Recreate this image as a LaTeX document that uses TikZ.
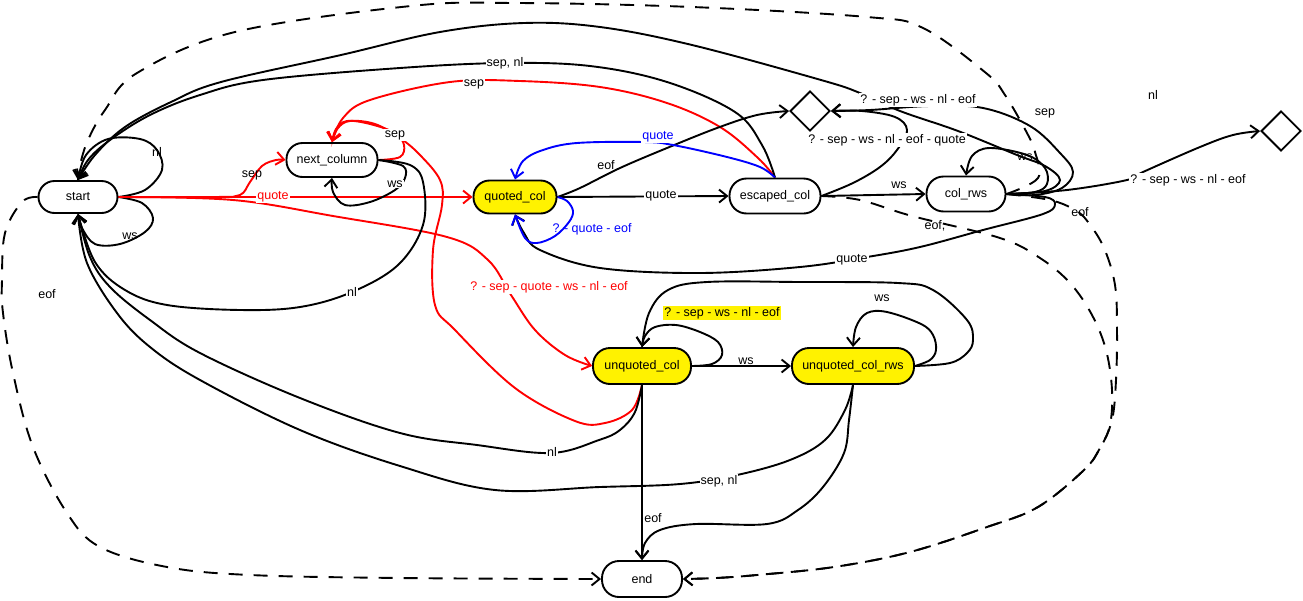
\documentclass[tikz,border=0pt]{standalone}
\usepackage{fontspec}
\setmainfont{Liberation Sans}
\usetikzlibrary{arrows.meta,shapes.geometric}
\pgfdeclarelayer{bg}
\pgfsetlayers{bg,main}
\begin{document}
\begin{tikzpicture}[x=1pt,y=-1pt,
  every node/.style={font=\fontsize{12.5}{14}\selectfont},
  stt/.style={draw, line width=1.9pt, rectangle, rounded corners=16pt, minimum height=34pt, inner sep=0pt},
  dm/.style={draw, line width=1.9pt, diamond, minimum width=40pt, minimum height=40pt, inner sep=0pt},
  cn/.style={line width=1.9pt},
  ar/.style={cn, -{Straight Barb[length=8pt,width=13pt]}},
  dsh/.style={ar, dash pattern=on 14pt off 11pt},
  lbl/.style={fill=white, inner sep=1pt},
  lb/.style={inner sep=1pt}
]
\useasboundingbox (0,0) rectangle (1303,600);
% states
\node[stt, minimum width=79pt, minimum height=32pt] (s) at (78,197) {start};
\node[stt, minimum width=91pt] (nc) at (332,160) {next\_column};
\node[stt, fill=yellow, minimum width=83pt, minimum height=33pt] (qc) at (515,197) {quoted\_col};
\node[stt, minimum width=91pt, minimum height=35pt, rounded corners=17pt] (ec) at (775,196) {escaped\_col};
\node[stt, minimum width=79pt, minimum height=35pt, rounded corners=17pt] (cr) at (966,194) {col\_rws};
\node[dm] (d1) at (810,111) {};
\node[dm] (d2) at (1281,131) {};
\node[stt, fill=yellow, minimum width=98pt, minimum height=36pt, rounded corners=17pt] (uc) at (642,366) {unquoted\_col};
\node[stt, fill=yellow, minimum width=122pt, minimum height=36pt, rounded corners=17pt] (ucr) at (853,366) {unquoted\_col\_rws};
\node[stt, minimum width=80pt, minimum height=36pt, rounded corners=17pt] (fin) at (642,579) {end};

\begin{pgfonlayer}{bg}
% start loops
\draw[ar] plot[smooth, tension=0.6] coordinates {(s.east) (145,190) (162,170) (157,150) (140,139) (108,139) (86,155) (s.north)};
\draw[ar] plot[smooth, tension=0.6] coordinates {(s.east) (142,203) (153,218) (145,232) (120,244) (95,244) (82,228) (s.south)};
% start -> next_column (sep)
\draw[ar, red] plot[smooth, tension=0.6] coordinates {(s.east) (215,197) (240,195) (250,182) (262,166) (276,160) (nc.west)};
% start -> quoted_col (quote)
\draw[ar, red] (s.east) -- (qc.west);
% start -> unquoted_col
\draw[ar, red] plot[smooth, tension=0.6] coordinates {(s.east) (233,200) (333,216) (447,237) (488,260) (511,295) (535,330) (565,355) (uc.west)};
% next_column loops
\draw[ar, red] plot[smooth, tension=0.6] coordinates {(nc.east) (400,157) (404,145) (395,133) (370,124) (347,121) (336,129) (nc.north)};
\draw[ar] plot[smooth, tension=0.6] coordinates {(nc.east) (403,166) (405,178) (395,190) (370,202) (345,205) (333,192) (nc.south)};
% next_column -> start (nl)
\draw[ar] plot[smooth, tension=0.6] coordinates {(nc.east) (410,165) (423,182) (423,225) (398,265) (352,292) (300,307) (240,310) (167,305) (125,290) (95,262) (s.south)};
% unquoted_col -> next_column (sep, red)
\draw[ar, red] plot[smooth, tension=0.6] coordinates {(uc.south) (632,410) (605,423) (575,421) (515,388) (455,330) (435,305) (433,250) (442,205) (440,180) (420,155) (400,138) (375,124) (350,121) (338,128) (nc.north)};
% escaped_col -> next_column (sep, red)
\draw[ar, red] plot[smooth, tension=0.6] coordinates {(ec.north) (758,158) (720,127) (667,103) (600,87) (520,81) (450,82) (370,100) (343,118) (nc.north)};
% escaped_col -> start (sep, nl)
\draw[ar] plot[smooth, tension=0.6] coordinates {(ec.north) (762,145) (735,112) (667,82) (590,66) (505,63) (400,68) (263,80) (200,95) (150,115) (110,140) (88,160) (s.north)};
% col_rws -> start (upper arc)
\draw[ar] plot[smooth, tension=0.6] coordinates {(cr.east) (1045,191) (1060,180) (1045,166) (1017,155) (958,131) (900,111) (860,93) (821,80) (692,45) (600,27) (524,23) (440,32) (341,55) (221,82) (171,102) (125,127) (95,155) (s.north)};
% col_rws -> diamond 1
\draw[ar] plot[smooth, tension=0.6] coordinates {(cr.east) (1035,195) (1062,188) (1073,172) (1060,153) (1030,126) (983,108) (930,106) (870,110) (d1.east)};
% escaped_col -> diamond 1
\draw[ar] plot[smooth, tension=0.6] coordinates {(ec.east) (853,183) (880,167) (897,150) (907,130) (895,117) (862,111) (d1.east)};
% quoted_col -> diamond 1 (eof)
\draw[ar] plot[smooth, tension=0.6] coordinates {(qc.east) (580,188) (620,168) (667,148) (717,128) (757,115) (d1.west)};
% quoted_col -> escaped_col
\draw[ar] (qc.east) -- (ec.west);
% escaped_col -> col_rws
\draw[ar] (ec.east) -- (cr.west);
% col_rws loop ws
\draw[ar] plot[smooth, tension=0.6] coordinates {(cr.east) (1035,192) (1047,184) (1045,168) (1027,155) (990,148) (972,156) (cr.north)};
% col_rws -> diamond 2
\draw[ar] plot[smooth, tension=0.6] coordinates {(cr.east) (1067,190) (1127,180) (1143,172) (1200,147) (1233,135) (d2.west)};
% col_rws -> quoted_col (quote)
\draw[ar] plot[smooth, tension=0.6] coordinates {(cr.east) (1045,197) (1055,204) (1043,214) (983,230) (920,247) (867,257) (800,267) (700,273) (600,268) (540,250) (524,233) (qc.south)};
% escaped_col -> quoted_col (blue)
\draw[ar, blue] plot[smooth, tension=0.6] coordinates {(ec.north) (760,167) (727,157) (673,145) (643,142) (577,143) (543,150) (523,161) (qc.north)};
% quoted_col loop (blue)
\draw[ar, blue] plot[smooth, tension=0.6] coordinates {(qc.east) (567,201) (573,211) (569,222) (555,236) (537,243) (525,238) (qc.south)};
% unquoted_col loop
\draw[ar] plot[smooth, tension=0.6] coordinates {(uc.east) (712,364) (722,355) (718,342) (700,332) (676,325) (655,327) (645,336) (uc.north)};
% unquoted_col_rws -> unquoted_col
\draw[ar] plot[smooth, tension=0.6] coordinates {(ucr.east) (950,363) (967,353) (973,340) (967,320) (933,290) (898,283) (800,282) (707,282) (668,290) (649,313) (uc.north)};
% unquoted_col_rws loop ws
\draw[ar] plot[smooth, tension=0.6] coordinates {(ucr.east) (930,360) (936,350) (933,335) (921,324) (887,312) (867,313) (856,327) (ucr.north)};
% unquoted_col -> unquoted_col_rws
\draw[ar] (uc.east) -- (ucr.west);
% unquoted_col -> end
\draw[ar] (uc.south) -- (fin.north);
% unquoted_col_rws -> end
\draw[ar] plot[smooth, tension=0.6] coordinates {(ucr.south) (849,420) (844,453) (823,487) (798,510) (767,524) (696,524) (660,530) (645,543) (fin.north)};
% unquoted_col_rws -> start (sep, nl)
\draw[ar] plot[smooth, tension=0.6] coordinates {(ucr.south) (845,410) (825,440) (790,460) (737,475) (680,484) (600,487) (495,490) (400,466) (300,430) (200,380) (150,347) (117,313) (87,263) (s.south)};
% unquoted_col -> start (nl)
\draw[ar] plot[smooth, tension=0.6] coordinates {(uc.south) (635,412) (620,430) (599,440) (551,453) (477,445) (400,433) (300,398) (200,353) (150,320) (110,287) (90,257) (s.south)};
% dashed: start -> end
\draw[dsh] plot[smooth, tension=0.6] coordinates {(s.west) (22,202) (5,233) (2,280) (3,313) (13,373) (33,447) (67,513) (100,547) (167,567) (250,575) (400,578) (fin.west)};
% dashed: top arc
\draw[cn, dash pattern=on 14pt off 11pt] plot[smooth, tension=0.6] coordinates {(cr.east) (1038,178) (1035,152) (1027,133) (1005,95) (986,73) (923,28) (867,17) (692,7) (516,3) (411,6) (235,32) (137,73) (105,110) (88,140) (80,165) (s.north)};
% dashed: col_rws -> end
\draw[dsh] plot[smooth, tension=0.6] coordinates {(cr.east) (1050,200) (1075,210) (1088,222) (1104,248) (1115,285) (1117,330) (1116,380) (1112,420) (1100,448) (1084,470) (1038,507) (987,527) (910,552) (834,567) (757,575) (716,578) (fin.east)};
% dashed: escaped_col -> end
\draw[dsh] plot[smooth, tension=0.6] coordinates {(ec.east) (860,200) (912,216) (1000,238) (1040,258) (1070,283) (1092,315) (1106,350) (1112,390) (1110,425) (1100,448) (1084,470) (1038,507) (987,527) (910,552) (834,567) (757,575) (716,578) (fin.east)};
\end{pgfonlayer}

% labels
\node[lb] (l1) at (157,152) {nl};
\node[lb] (l2) at (130,236) {ws};
\node[lb] (l3) at (252,175) {sep};
\node[lbl, text=red] (l4) at (273,197) {quote};
\node[lbl, text=red] (l5) at (549,287) {? - sep - quote - ws - nl - eof};
\node[lbl] (l6) at (395,135) {sep};
\node[lbl] (l7) at (395,184) {ws};
\node[lbl] (l8) at (352,292) {nl};
\node[lbl] (l9) at (474,84) {sep};
\node[lbl] (l10) at (505,63) {sep, nl};
\node[lbl] (l11) at (918,100) {? - sep - ws - nl - eof};
\node[lbl] (l12) at (887,140) {? - sep - ws - nl - eof - quote};
\node[lb] (l13) at (606,165) {eof};
\node[lbl] (l14) at (661,196) {quote};
\node[lbl, text=blue] (l15) at (658,137) {quote};
\node[lb, text=blue] (l16) at (592,229) {? - quote - eof};
\node[lb] (l17) at (899,185) {ws};
\node[lb] (l18) at (1025,157) {ws};
\node[lb] (l19) at (1045,113) {sep};
\node[lb] (l20) at (1153,95) {nl};
\node[lbl] (l21) at (1188,180) {? - sep - ws - nl - eof};
\node[lb] (l22) at (1080,212) {eof};
\node[lb] (l23) at (935,226) {eof,};
\node[lbl] (l24) at (852,260) {quote};
\node[inner sep=1pt, fill=yellow] (l25) at (722,313) {? - sep - ws - nl - eof};
\node[lb] (l26) at (882,298) {ws};
\node[lbl] (l27) at (746,361) {ws};
\node[lbl] (l28) at (552,452) {nl};
\node[lbl] (l29) at (719,481) {sep, nl};
\node[lb] (l30) at (653,518) {eof};
\node[lb] (l31) at (47,294) {eof};
\end{tikzpicture}
\end{document}
